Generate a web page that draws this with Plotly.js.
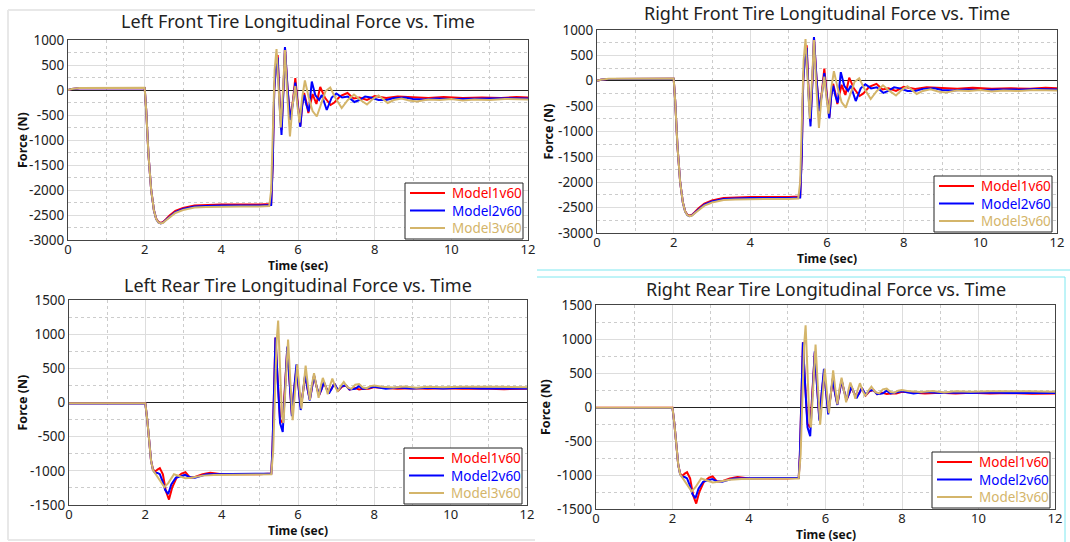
<!DOCTYPE html>
<html><head><meta charset="utf-8">
<script src="https://cdn.plot.ly/plotly-3.0.1.min.js"></script>
<style>html,body{margin:0;padding:0;background:#fff;} #chart{width:1070px;height:542px;}</style>
</head><body><div id="chart"></div>
<script>
// ---------- DATA ----------
const seriesNames = ['Model1v60', 'Model2v60', 'Model3v60'];
const panelTitles = [
  'Left Front Tire Longitudinal Force vs. Time',
  'Right Front Tire Longitudinal Force vs. Time',
  'Left Rear Tire Longitudinal Force vs. Time',
  'Right Rear Tire Longitudinal Force vs. Time'
];
const xAxisLabel = 'Time (sec)';
const yAxisLabel = 'Force (N)';
const xTickVals = [0, 2, 4, 6, 8, 10, 12];
const xTickText = ['0', '2', '4', '6', '8', '10', '12'];
const frontTickVals = [-3000, -2500, -2000, -1500, -1000, -500, 0, 500, 1000];
const frontTickText = ['-3000', '-2500', '-2000', '-1500', '-1000', '-500', '0', '500', '1000'];
const rearTickVals = [-1500, -1000, -500, 0, 500, 1000, 1500];
const rearTickText = ['-1500', '-1000', '-500', '0', '500', '1000', '1500'];

// Front tires (Model1 / Model2 / Model3)
const frontT1 = [0,0.1,0.3,1,2,2.04,2.1,2.17,2.24,2.3,2.36,2.42,2.48,2.55,2.65,2.8,3.0,3.3,3.6,4.0,5.0,5.3,5.34,5.38,5.43,5.47,5.52,5.57,5.62,5.66,5.73,5.80,5.87,5.93,6.00,6.06,6.11,6.16,6.22,6.27,6.33,6.38,6.48,6.58,6.70,6.85,6.95,7.1,7.29,7.45,7.6,7.8,8.0,8.3,8.6,9.0,9.4,9.8,10.3,10.8,11.3,11.7,12];
const frontF1 = [0,20,35,40,40,-400,-1300,-2000,-2400,-2570,-2640,-2660,-2640,-2590,-2510,-2420,-2360,-2310,-2300,-2290,-2290,-2280,-1500,0,550,700,-200,-800,0,850,0,-600,-200,240,-300,-720,-300,-60,-250,-460,-250,-80,-280,60,-150,-300,-250,-120,-60,-170,-150,-200,-120,-160,-130,-150,-160,-140,-160,-150,-160,-140,-150];
const frontT2 = [0,0.1,0.3,1,2,2.04,2.1,2.17,2.24,2.3,2.36,2.42,2.48,2.55,2.65,2.8,3.0,3.3,3.6,4.0,5.0,5.3,5.34,5.38,5.43,5.47,5.52,5.57,5.62,5.66,5.73,5.80,5.87,5.93,6.00,6.06,6.11,6.16,6.22,6.28,6.36,6.45,6.55,6.62,6.75,6.88,7.0,7.15,7.3,7.47,7.6,7.75,7.9,8.1,8.3,8.5,8.8,9.0,9.3,9.6,10,10.5,11,11.5,12];
const frontF2 = [0,20,35,40,40,-400,-1300,-2000,-2400,-2580,-2650,-2670,-2650,-2600,-2530,-2440,-2380,-2330,-2320,-2310,-2310,-2300,-1500,0,500,650,-300,-900,0,860,0,-600,-250,150,-350,-740,-300,-100,-300,-430,170,-100,-200,-100,-400,-150,-70,-150,-130,-240,-200,-130,-150,-200,-200,-160,-150,-180,-190,-170,-180,-170,-175,-165,-170];
const frontT3 = [0,0.1,0.3,1,2,2.04,2.1,2.17,2.24,2.3,2.36,2.42,2.48,2.55,2.65,2.8,3.0,3.3,3.6,4.0,4.5,5.0,5.25,5.30,5.35,5.39,5.44,5.49,5.55,5.61,5.66,5.72,5.79,5.86,5.93,5.99,6.04,6.11,6.18,6.28,6.38,6.49,6.60,6.72,6.84,6.97,7.14,7.30,7.46,7.63,7.80,7.95,8.10,8.22,8.34,8.5,8.7,8.9,9.1,9.4,9.7,10.0,10.3,10.6,11.0,11.4,11.8,12];
const frontF3 = [0,20,40,45,45,-400,-1300,-2000,-2400,-2580,-2650,-2670,-2655,-2610,-2550,-2460,-2400,-2350,-2340,-2330,-2330,-2330,-2320,-2000,-600,400,820,100,-750,0,800,-100,-930,-300,80,-350,-650,-150,190,-150,-420,-530,-300,-20,50,-150,-360,-200,-90,-200,-290,-180,-110,-180,-260,-200,-170,-210,-230,-190,-200,-180,-210,-190,-200,-180,-195,-190];

// Rear tires (Model1 / Model2 / Model3)
const rearT1 = [0,2,2.05,2.1,2.15,2.2,2.26,2.32,2.38,2.46,2.54,2.62,2.7,2.82,2.95,3.05,3.17,3.3,3.5,3.7,4.0,5.0,5.3,5.33,5.37,5.41,5.46,5.53,5.60,5.66,5.72,5.78,5.84,5.90,5.96,6.02,6.07,6.13,6.19,6.25,6.31,6.36,6.42,6.48,6.55,6.62,6.68,6.75,6.81,6.88,6.95,7.05,7.15,7.25,7.35,7.5,7.6,7.7,7.85,8.0,8.3,8.6,9.0,9.4,9.8,10.3,10.8,11.4,12];
const rearF1 = [-10,-10,-250,-600,-850,-980,-1010,-980,-960,-1050,-1300,-1420,-1250,-1100,-1040,-1020,-1100,-1090,-1050,-1030,-1050,-1050,-1040,-700,200,950,400,-250,-300,200,800,300,-180,200,500,200,-60,150,400,200,40,200,390,250,100,200,290,200,150,200,280,170,230,250,190,210,190,200,200,225,210,200,210,200,210,200,205,195,200];
const rearT2 = [0,2,2.05,2.1,2.15,2.2,2.26,2.32,2.38,2.45,2.52,2.6,2.68,2.8,2.95,3.04,3.15,3.3,3.6,4.0,5.0,5.3,5.33,5.37,5.41,5.46,5.53,5.60,5.66,5.72,5.78,5.84,5.90,5.96,6.02,6.07,6.13,6.19,6.25,6.31,6.36,6.42,6.48,6.55,6.62,6.68,6.75,6.81,6.88,6.95,7.05,7.15,7.25,7.35,7.5,7.6,7.7,7.85,8.0,8.3,8.6,9.0,9.4,9.8,10.3,10.8,11.4,12];
const rearF2 = [-15,-15,-250,-600,-850,-990,-1030,-1030,-1050,-1150,-1280,-1340,-1200,-1100,-1070,-1060,-1090,-1100,-1050,-1050,-1050,-1040,-700,200,950,400,-300,-430,200,820,300,-200,200,560,200,-110,150,420,200,30,200,400,250,110,200,300,200,130,200,280,180,240,250,190,200,240,200,210,230,200,220,205,215,205,215,205,210,205];
const rearT3 = [0,2,2.05,2.1,2.15,2.2,2.26,2.32,2.4,2.5,2.6,2.75,2.9,3.05,3.2,3.5,3.8,4.2,5.0,5.3,5.35,5.40,5.44,5.48,5.53,5.58,5.62,5.68,5.74,5.80,5.86,5.92,5.98,6.04,6.09,6.15,6.20,6.26,6.31,6.36,6.42,6.48,6.54,6.60,6.65,6.72,6.78,6.84,6.90,6.97,7.04,7.12,7.20,7.30,7.40,7.5,7.6,7.7,7.8,7.9,8.0,8.2,8.5,8.8,9.1,9.4,9.8,10.3,10.8,11.3,12];
const rearF3 = [-10,-10,-250,-600,-850,-990,-1040,-1080,-1150,-1240,-1180,-1050,-1080,-1110,-1100,-1070,-1060,-1055,-1050,-1050,-700,200,900,1200,500,-200,-300,300,920,300,-260,150,560,200,-90,250,540,250,40,250,430,250,70,250,360,250,120,250,350,240,160,240,300,220,200,260,270,220,210,240,250,230,220,235,215,230,225,230,225,230,225];

// ---------- LAYOUT HELPERS ----------
const colors = ['#ff0000', '#0000ff', '#d4b56a'];
const W = 1070, H = 542;
const px = v => v / W;
const py = v => 1 - v / H;

// plot boxes in pixels: [left, right, top, bottom]
const boxes = [
  [68, 528, 40, 240],
  [597, 1057, 30, 233],
  [69, 527, 300, 505],
  [596, 1055, 305, 509]
];
const titleY = [21, 13, 285, 289];
const xLabelY = [265.5, 258.5, 530.5, 534];
const yLabelX = [22, 548, 22, 545];

const frontSeries = [[frontT1, frontF1], [frontT2, frontF2], [frontT3, frontF3]];
const rearSeries = [[rearT1, rearF1], [rearT2, rearF2], [rearT3, rearF3]];

const traces = [];
const layout = {
  width: W, height: H,
  margin: {l: 0, r: 0, t: 0, b: 0},
  paper_bgcolor: '#ffffff',
  plot_bgcolor: '#ffffff',
  font: {family: 'Noto Sans, sans-serif', color: '#222'},
  showlegend: false,
  annotations: [],
  shapes: []
};

for (let p = 0; p < 4; p++) {
  const sfx = p === 0 ? '' : String(p + 1);
  const data = p < 2 ? frontSeries : rearSeries;
  for (let s = 0; s < 3; s++) {
    traces.push({
      x: data[s][0], y: data[s][1],
      type: 'scatter', mode: 'lines',
      line: {color: colors[s], width: 2},
      name: seriesNames[s],
      xaxis: 'x' + sfx, yaxis: 'y' + sfx
    });
  }
  const b = boxes[p];
  const common = {
    showline: true, mirror: true, linecolor: '#444', linewidth: 1,
    showgrid: true, gridcolor: '#dddddd', gridwidth: 1,
    ticks: '',
    tickfont: {size: 13.5, color: '#222', family: 'Noto Sans, sans-serif'},
    automargin: false, fixedrange: true
  };
  layout['xaxis' + sfx] = Object.assign({}, common, {
    domain: [px(b[0]), px(b[1])],
    anchor: 'y' + sfx,
    range: [0, 12],
    tickmode: 'array', tickvals: xTickVals, ticktext: xTickText,
    tickfont: {size: 13, color: '#222', family: 'Noto Sans, sans-serif'},
    ticklabelstandoff: -3,
    zeroline: false,
    minor: {tickmode: 'linear', tick0: 0, dtick: 1, showgrid: true, gridcolor: '#cccccc', griddash: 'dot', gridwidth: 1}
  });
  layout['yaxis' + sfx] = Object.assign({}, common, {
    domain: [py(b[3]), py(b[2])],
    anchor: 'x' + sfx,
    range: p < 2 ? [-3000, 1000] : [-1500, 1500],
    tickmode: 'array',
    tickvals: p < 2 ? frontTickVals : rearTickVals,
    ticktext: p < 2 ? frontTickText : rearTickText,
    zeroline: true, zerolinecolor: '#222', zerolinewidth: 1,
    minor: {tickmode: 'linear', tick0: 0, dtick: 250, showgrid: true, gridcolor: '#cccccc', griddash: 'dot', gridwidth: 1}
  });

  // axis titles
  layout.annotations.push({text: '<b>' + xAxisLabel + '</b>', xref: 'paper', yref: 'paper',
    x: px((b[0] + b[1]) / 2), y: py(xLabelY[p]), xanchor: 'center', yanchor: 'middle', showarrow: false,
    font: {size: 12, color: '#111', family: 'Noto Sans, sans-serif'}});
  layout.annotations.push({text: '<b>' + yAxisLabel + '</b>', xref: 'paper', yref: 'paper', textangle: -90,
    x: px(yLabelX[p]), y: py((b[2] + b[3]) / 2), xanchor: 'center', yanchor: 'middle', showarrow: false,
    font: {size: 12.5, color: '#111', family: 'Noto Sans, sans-serif'}});

  // legend box (drawn in paper coordinates)
  const lr = b[1] - 5, lb = b[3] - 1, lw = 118, lh = 56;
  const ll = lr - lw, lt = lb - lh;
  layout.shapes.push({type: 'rect', xref: 'paper', yref: 'paper', x0: px(ll), x1: px(lr), y0: py(lb), y1: py(lt),
    line: {color: '#222', width: 1}, fillcolor: '#ffffff', layer: 'above'});
  for (let s = 0; s < 3; s++) {
    const ey = lt + 10 + s * 17.5;
    layout.shapes.push({type: 'line', xref: 'paper', yref: 'paper', x0: px(ll + 5), x1: px(ll + 40), y0: py(ey), y1: py(ey),
      line: {color: colors[s], width: 2}, layer: 'above'});
    layout.annotations.push({text: seriesNames[s], xref: 'paper', yref: 'paper', x: px(ll + 45), y: py(ey),
      xanchor: 'left', yanchor: 'middle', showarrow: false,
      font: {size: 13.5, color: colors[s], family: 'Noto Sans, sans-serif'}});
  }

  layout.annotations.push({
    text: panelTitles[p], xref: 'paper', yref: 'paper',
    x: px((b[0] + b[1]) / 2), y: py(titleY[p]), xanchor: 'center', yanchor: 'middle',
    showarrow: false, font: {size: 18, color: '#222', family: 'Noto Sans, sans-serif'}
  });
}

// screenshot frame lines
layout.shapes.push(
  {type: 'line', xref: 'paper', yref: 'paper', x0: px(537), x1: 1, y0: py(270), y1: py(270), line: {color: '#7fe8f0', width: 1}},
  {type: 'line', xref: 'paper', yref: 'paper', x0: px(537), x1: px(1065), y0: py(277), y1: py(277), line: {color: '#7fe8f0', width: 1}},
  {type: 'line', xref: 'paper', yref: 'paper', x0: px(1065), x1: px(1065), y0: py(277), y1: 0, line: {color: '#7fe8f0', width: 1}},
  {type: 'line', xref: 'paper', yref: 'paper', x0: px(8), x1: px(535), y0: py(10), y1: py(10), line: {color: '#e8e8e8', width: 2}},
  {type: 'line', xref: 'paper', yref: 'paper', x0: px(8), x1: px(8), y0: py(10), y1: py(540), line: {color: '#e8e8e8', width: 2}},
  {type: 'line', xref: 'paper', yref: 'paper', x0: px(8), x1: px(535), y0: py(540), y1: py(540), line: {color: '#e8e8e8', width: 2}}
);

Plotly.newPlot('chart', traces, layout, {staticPlot: true, displayModeBar: false});
</script></body></html>
